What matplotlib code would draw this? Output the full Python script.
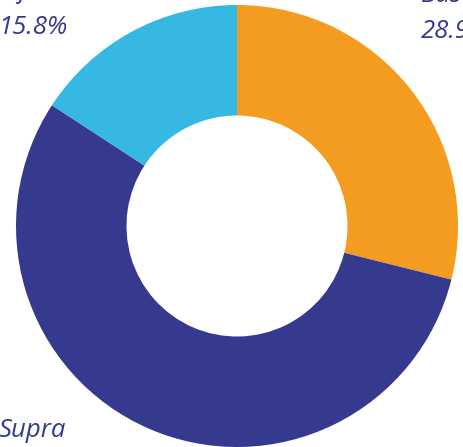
import matplotlib.pyplot as plt

# donut data
categories = ['Basal', 'Supra', 'Infra']
values = [28.9, 55.3, 15.8]
colors = ['#f39c1f', '#363a8e', '#35b9e2']

# label anchors (data coords): left x, baseline of first line
label_pos = [(0.83, 1.014), (-1.077, -0.955), (-1.08, 1.032)]
line_gap = 0.163
text_color = '#363a8e'

fig = plt.figure(figsize=(4.64, 4.47), dpi=100)
ax = fig.add_axes([0, 0, 1, 1])
ax.pie(values, colors=colors, startangle=90, counterclock=False,
       radius=1.0, wedgeprops=dict(width=0.5, linewidth=0))

for name, val, (x, y) in zip(categories, values, label_pos):
    ax.text(x, y, name, ha='left', va='baseline', fontsize=18.5,
            style='italic', color=text_color, family='Open Sans')
    ax.text(x, y - line_gap, '%.1f%%' % val, ha='left', va='baseline', fontsize=18.5,
            style='italic', color=text_color, family='Open Sans')

ax.set_xlim(-237 / 221, 227 / 221)
ax.set_ylim(-221 / 221, 226 / 221)
ax.set_aspect('auto')
ax.axis('off')
fig.savefig('out.png', dpi=100)
